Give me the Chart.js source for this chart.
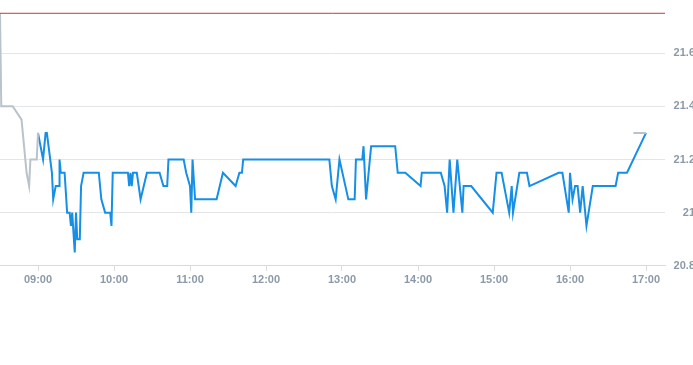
<!DOCTYPE html>
<html>
<head>
<meta charset="utf-8">
<script src="https://cdn.jsdelivr.net/npm/chart.js@4/dist/chart.umd.min.js"></script>
<style>
  html, body { margin: 0; padding: 0; background: #fff; overflow: hidden; }
  #wrap { width: 695px; height: 365px; }
</style>
</head>
<body>
<div id="wrap"><canvas id="priceChart"></canvas></div>
<script>
// Session data
var prevClose = 21.75;

var preTimes  = ['08:30', '08:31', '08:40', '08:47', '08:51', '08:53', '08:54', '08:59', '09:00'];
var preValues = [21.75, 21.4, 21.4, 21.35, 21.15, 21.1, 21.2, 21.2, 21.3];

var postTimes  = ['16:50', '17:00'];
var postValues = [21.3, 21.3];

var sessionTimes = [
  '09:00', '09:02', '09:04', '09:05', '09:06', '09:07', '09:11', '09:12', '09:14', '09:17',
  '09:17', '09:18', '09:21', '09:23', '09:25', '09:26', '09:27', '09:29', '09:30', '09:31',
  '09:33', '09:34', '09:36', '09:48', '09:50', '09:53', '09:57', '09:58', '09:59', '10:11',
  '10:12', '10:13', '10:14', '10:15', '10:18', '10:21', '10:26', '10:36', '10:39', '10:42',
  '10:43', '10:55', '10:57', '11:00', '11:01', '11:02', '11:04', '11:21', '11:26', '11:36',
  '11:39', '11:41', '11:42', '12:50', '12:52', '12:55', '12:58', '13:05', '13:10', '13:11',
  '13:16', '13:17', '13:19', '13:23', '13:42', '13:44', '13:50', '14:02', '14:03', '14:18',
  '14:21', '14:23', '14:25', '14:28', '14:31', '14:35', '14:36', '14:42', '14:59', '15:02',
  '15:06', '15:12', '15:14', '15:15', '15:20', '15:26', '15:28', '15:51', '15:54', '15:59',
  '16:00', '16:02', '16:04', '16:06', '16:08', '16:10', '16:13', '16:18', '16:36', '16:38',
  '16:45', '17:00'
];
var sessionValues = [
  21.3, 21.25, 21.2, 21.25, 21.3, 21.3, 21.15, 21.05, 21.1, 21.1,
  21.2, 21.15, 21.15, 21.0, 21.0, 20.95, 21.0, 20.85, 21.0, 20.9,
  20.9, 21.1, 21.15, 21.15, 21.05, 21.0, 21.0, 20.95, 21.15, 21.15,
  21.1, 21.15, 21.1, 21.15, 21.15, 21.05, 21.15, 21.15, 21.1, 21.1,
  21.2, 21.2, 21.15, 21.1, 21.0, 21.2, 21.05, 21.05, 21.15, 21.1,
  21.15, 21.15, 21.2, 21.2, 21.1, 21.05, 21.2, 21.05, 21.05, 21.2,
  21.2, 21.25, 21.05, 21.25, 21.25, 21.15, 21.15, 21.1, 21.15, 21.15,
  21.1, 21.0, 21.2, 21.0, 21.2, 21.0, 21.1, 21.1, 21.0, 21.15,
  21.15, 21.0, 21.1, 21.0, 21.15, 21.15, 21.1, 21.15, 21.15, 21.0,
  21.15, 21.05, 21.1, 21.1, 21.0, 21.1, 20.95, 21.1, 21.1, 21.15,
  21.15, 21.3
];

var hourTicks = ['09:00', '10:00', '11:00', '12:00', '13:00', '14:00', '15:00', '16:00', '17:00'];
var priceTicks = [20.8, 21, 21.2, 21.4, 21.6];

var dayStart = '08:30';
var dayEnd = '17:15';

function toMinutes(t) {
    var p = t.split(':');
    return parseInt(p[0], 10) * 60 + parseInt(p[1], 10);
}

function toLabel(m) {
    var h = Math.floor(m / 60), mm = m % 60;
    return (h < 10 ? '0' : '') + h + ':' + (mm < 10 ? '0' : '') + mm;
}

function makePoints(times, values) {
    return times.map(function(t, i) { return { x: toMinutes(t), y: values[i] }; });
}

var tickColor = '#8c99a8';
var ctx = document.getElementById('priceChart').getContext('2d');
var priceChart = new Chart(ctx, {
    type: 'line',
    data: {
        datasets: [
            {
                label: 'Previous close',
                data: [{ x: toMinutes(dayStart), y: prevClose }, { x: toMinutes(dayEnd), y: prevClose }],
                borderColor: '#c83a30',
                borderWidth: 1,
                pointRadius: 0
            },
            {
                label: 'Pre-market',
                data: makePoints(preTimes, preValues),
                borderColor: '#b9c3cc',
                borderWidth: 2,
                pointRadius: 0
            },
            {
                label: 'Post-market',
                data: makePoints(postTimes, postValues),
                borderColor: '#b9c3cc',
                borderWidth: 2,
                pointRadius: 0
            },
            {
                label: 'Price',
                data: makePoints(sessionTimes, sessionValues),
                borderColor: '#168fe6',
                borderWidth: 2,
                pointRadius: 0
            }
        ]
    },
    options: {
        responsive: true,
        maintainAspectRatio: false,
        animation: false,
        layout: { padding: { left: 0, right: 0, top: 0, bottom: 75 } },
        plugins: {
            legend: { display: false },
            tooltip: { enabled: false }
        },
        scales: {
            x: {
                type: 'linear',
                min: toMinutes(dayStart),
                max: toMinutes(dayEnd),
                afterBuildTicks: function(scale) {
                    scale.ticks = hourTicks.map(function(t) { return { value: toMinutes(t) }; });
                },
                afterFit: function(scale) {
                    scale.paddingLeft = 0;
                    scale.paddingRight = 0;
                },
                grid: {
                    drawOnChartArea: false,
                    drawTicks: true,
                    tickLength: 5,
                    color: '#d6dbe0'
                },
                border: { display: true, color: '#d6dbe0' },
                ticks: {
                    color: tickColor,
                    font: { family: 'Liberation Sans, Arial, sans-serif', size: 11, weight: 'bold' },
                    padding: 3,
                    maxRotation: 0,
                    callback: function(v) { return toLabel(v); }
                }
            },
            y: {
                position: 'right',
                min: 20.8,
                max: 21.8,
                afterBuildTicks: function(scale) {
                    scale.ticks = priceTicks.map(function(v) { return { value: v }; });
                },
                afterFit: function(scale) {
                    scale.width = 30;
                    scale.paddingTop = 0;
                    scale.paddingBottom = 0;
                },
                grid: {
                    drawTicks: false,
                    color: '#e3e6e9'
                },
                border: { display: false },
                ticks: {
                    color: tickColor,
                    crossAlign: 'far',
                    padding: 8,
                    font: { family: 'Liberation Sans, Arial, sans-serif', size: 11, weight: 'bold' },
                    callback: function(v) { return String(Math.round(v * 10) / 10); }
                }
            }
        }
    }
});
</script>
</body>
</html>
